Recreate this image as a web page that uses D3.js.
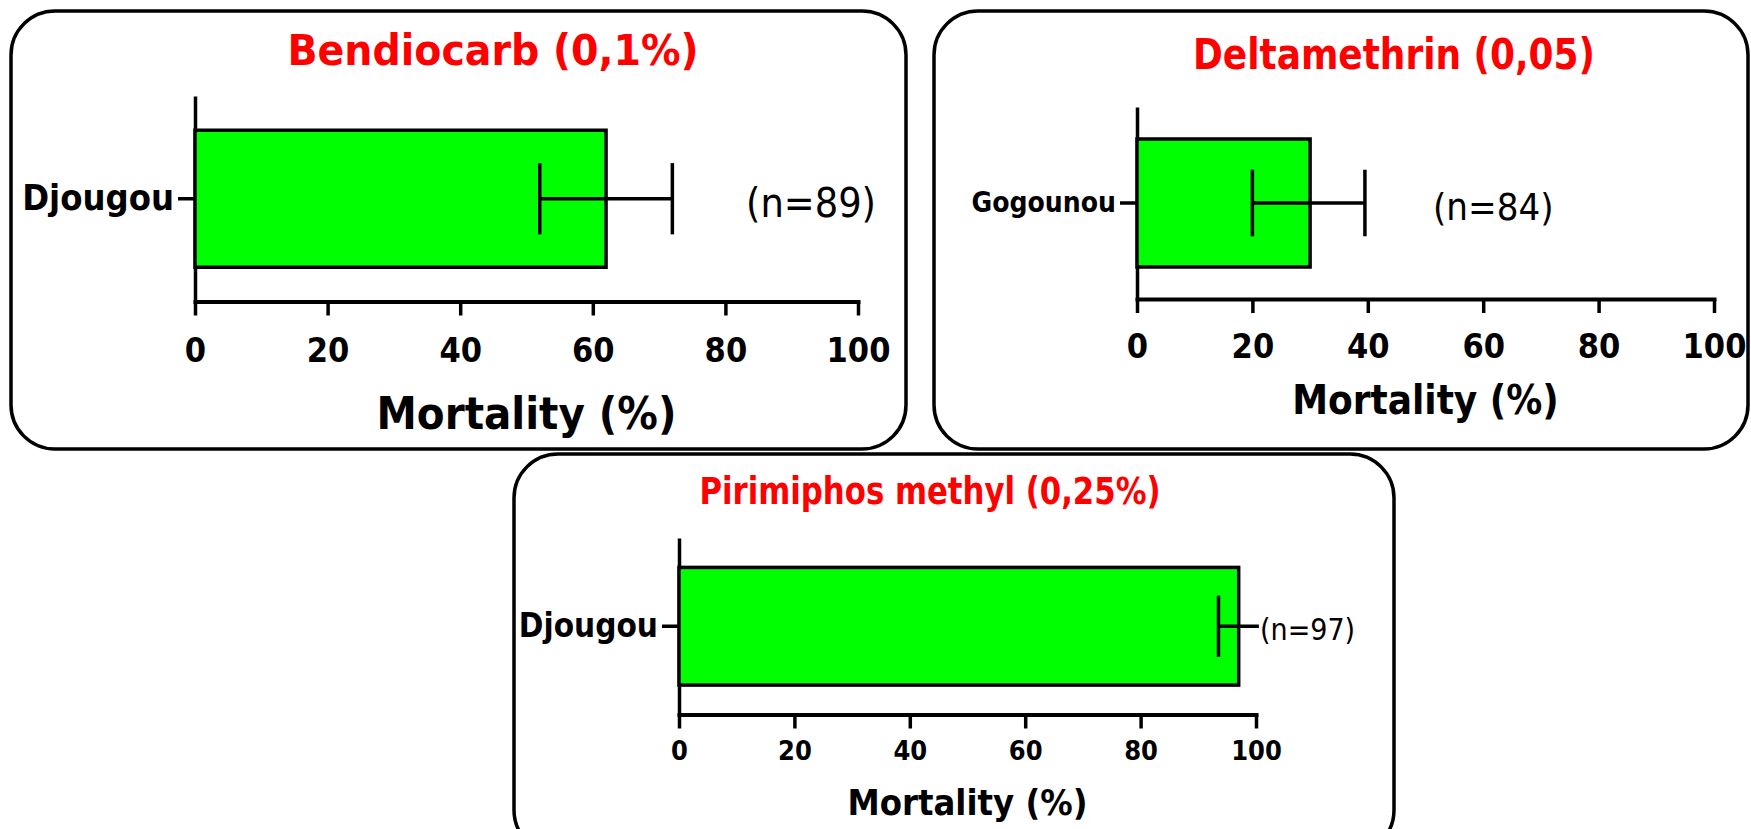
<!DOCTYPE html>
<html>
<head>
<meta charset="utf-8">
<script src="https://cdn.jsdelivr.net/npm/d3@7"></script>
<style>
  body { margin: 0; background: #fff; }
  svg { display: block; }
</style>
</head>
<body>
<div id="chart"></div>
<script>
// data
var titles = ["Bendiocarb (0,1%)", "Deltamethrin (0,05)", "Pirimiphos methyl (0,25%)"];
var sites = ["Djougou", "Gogounou", "Djougou"];
var mortality = [62, 30, 97];
var errLow = [52, 20, 93.5];
var errHigh = [72, 39.5, 100.5];
var sampleN = [89, 84, 97];
var xTicks = [0, 20, 40, 60, 80, 100];

// panel layout
var layout = [
  { box: [11, 11, 895, 438], x0: 195, x1: 858, top: 96, axisY: 301.5, titleX: 493, titleY: 50, titleW: 411,
    tickY: 350, labY: 413, tickFs: 34, labFs: 45, titleFs: 42, siteFs: 36, nFs: 41, nX: 746 },
  { box: [934, 11, 814, 438], x0: 1137, x1: 1714, top: 107, axisY: 299, titleX: 1394, titleY: 54, titleW: 402,
    tickY: 346, labY: 400, tickFs: 34, labFs: 40, titleFs: 42, siteFs: 28, nFs: 38, nX: 1433 },
  { box: [514, 454, 880, 400], x0: 679, x1: 1256, top: 538, axisY: 714.5, titleX: 930, titleY: 491, titleW: 461,
    tickY: 750, labY: 802, tickFs: 27, labFs: 36, titleFs: 37, siteFs: 33, nFs: 30, nX: 1260 }
];

var font = "'DejaVu Sans Condensed', 'DejaVu Sans', sans-serif";

var svg = d3.select("#chart").append("svg")
  .attr("width", 1751)
  .attr("height", 829);

titles.forEach(function(title, i) {
  var L = layout[i];
  var g = svg.append("g");

  // rounded frame
  g.append("rect")
    .attr("x", L.box[0])
    .attr("y", L.box[1])
    .attr("width", L.box[2])
    .attr("height", L.box[3])
    .attr("rx", 44)
    .attr("ry", 44)
    .style("fill", "none")
    .style("stroke", "black")
    .style("stroke-width", 3.5);

  var x = d3.scaleLinear().domain([0, 100]).range([L.x0, L.x1]);
  var y = d3.scaleBand().domain([sites[i]]).range([L.top, L.axisY]).paddingInner(0).paddingOuter(0.25);

  // x axis
  var xAxis = g.append("g")
    .attr("transform", "translate(0," + L.axisY + ")")
    .call(d3.axisBottom(x).tickValues(xTicks).tickSize(14).tickPadding(10).tickSizeOuter(0));
  xAxis.select(".domain").style("stroke-width", 4).attr("stroke-linecap", "square");
  xAxis.selectAll(".tick line").style("stroke-width", 3.5);
  xAxis.selectAll(".tick text").remove();
  xAxis.selectAll(".tick").append("text")
    .attr("y", L.tickY - L.axisY)
    .attr("dy", "0.36em")
    .style("text-anchor", "middle")
    .style("font-family", font)
    .style("font-weight", "bold")
    .style("font-size", L.tickFs + "px")
    .style("fill", "black")
    .text(function(d) { return d; });

  // y axis
  var yAxis = g.append("g")
    .attr("transform", "translate(" + L.x0 + ",0)")
    .call(d3.axisLeft(y).tickSize(17).tickSizeOuter(0).tickPadding(4));
  yAxis.select(".domain").style("stroke-width", 3.5);
  yAxis.selectAll(".tick line").style("stroke-width", 3.5);
  yAxis.selectAll(".tick text")
    .style("font-family", font)
    .style("font-weight", "bold")
    .style("font-size", L.siteFs + "px")
    .style("fill", "black");

  // bar
  g.append("rect")
    .attr("x", x(0))
    .attr("y", y(sites[i]))
    .attr("width", x(mortality[i]) - x(0))
    .attr("height", y.bandwidth())
    .style("fill", "#00ff00")
    .style("stroke", "black")
    .style("stroke-width", 3.5);

  // error bar
  var cy = y(sites[i]) + y.bandwidth() / 2;
  var capH = y.bandwidth() * 0.26;
  g.append("line")
    .attr("x1", x(errLow[i])).attr("x2", x(errHigh[i]))
    .attr("y1", cy).attr("y2", cy)
    .style("stroke", "black").style("stroke-width", 3.5);
  g.append("line")
    .attr("x1", x(errLow[i])).attr("x2", x(errLow[i]))
    .attr("y1", cy - capH).attr("y2", cy + capH)
    .style("stroke", "black").style("stroke-width", 3.5);
  if (errHigh[i] <= 100) {
    g.append("line")
      .attr("x1", x(errHigh[i])).attr("x2", x(errHigh[i]))
      .attr("y1", cy - capH).attr("y2", cy + capH)
      .style("stroke", "black").style("stroke-width", 3.5);
  }

  // sample size
  g.append("text")
    .attr("x", L.nX)
    .attr("y", cy + 3)
    .attr("dy", "0.36em")
    .style("font-family", font)
    .style("font-size", L.nFs + "px")
    .style("fill", "black")
    .text("(n=" + sampleN[i] + ")");

  // axis title
  g.append("text")
    .attr("x", (L.x0 + L.x1) / 2)
    .attr("y", L.labY)
    .attr("dy", "0.36em")
    .style("text-anchor", "middle")
    .style("font-family", font)
    .style("font-weight", "bold")
    .style("font-size", L.labFs + "px")
    .text("Mortality (%)");

  // panel title
  g.append("text")
    .attr("x", L.titleX)
    .attr("y", L.titleY)
    .attr("dy", "0.36em")
    .attr("textLength", L.titleW)
    .attr("lengthAdjust", "spacingAndGlyphs")
    .style("text-anchor", "middle")
    .style("font-family", font)
    .style("font-weight", "bold")
    .style("font-size", L.titleFs + "px")
    .style("fill", "red")
    .text(title);
});
</script>
</body>
</html>
